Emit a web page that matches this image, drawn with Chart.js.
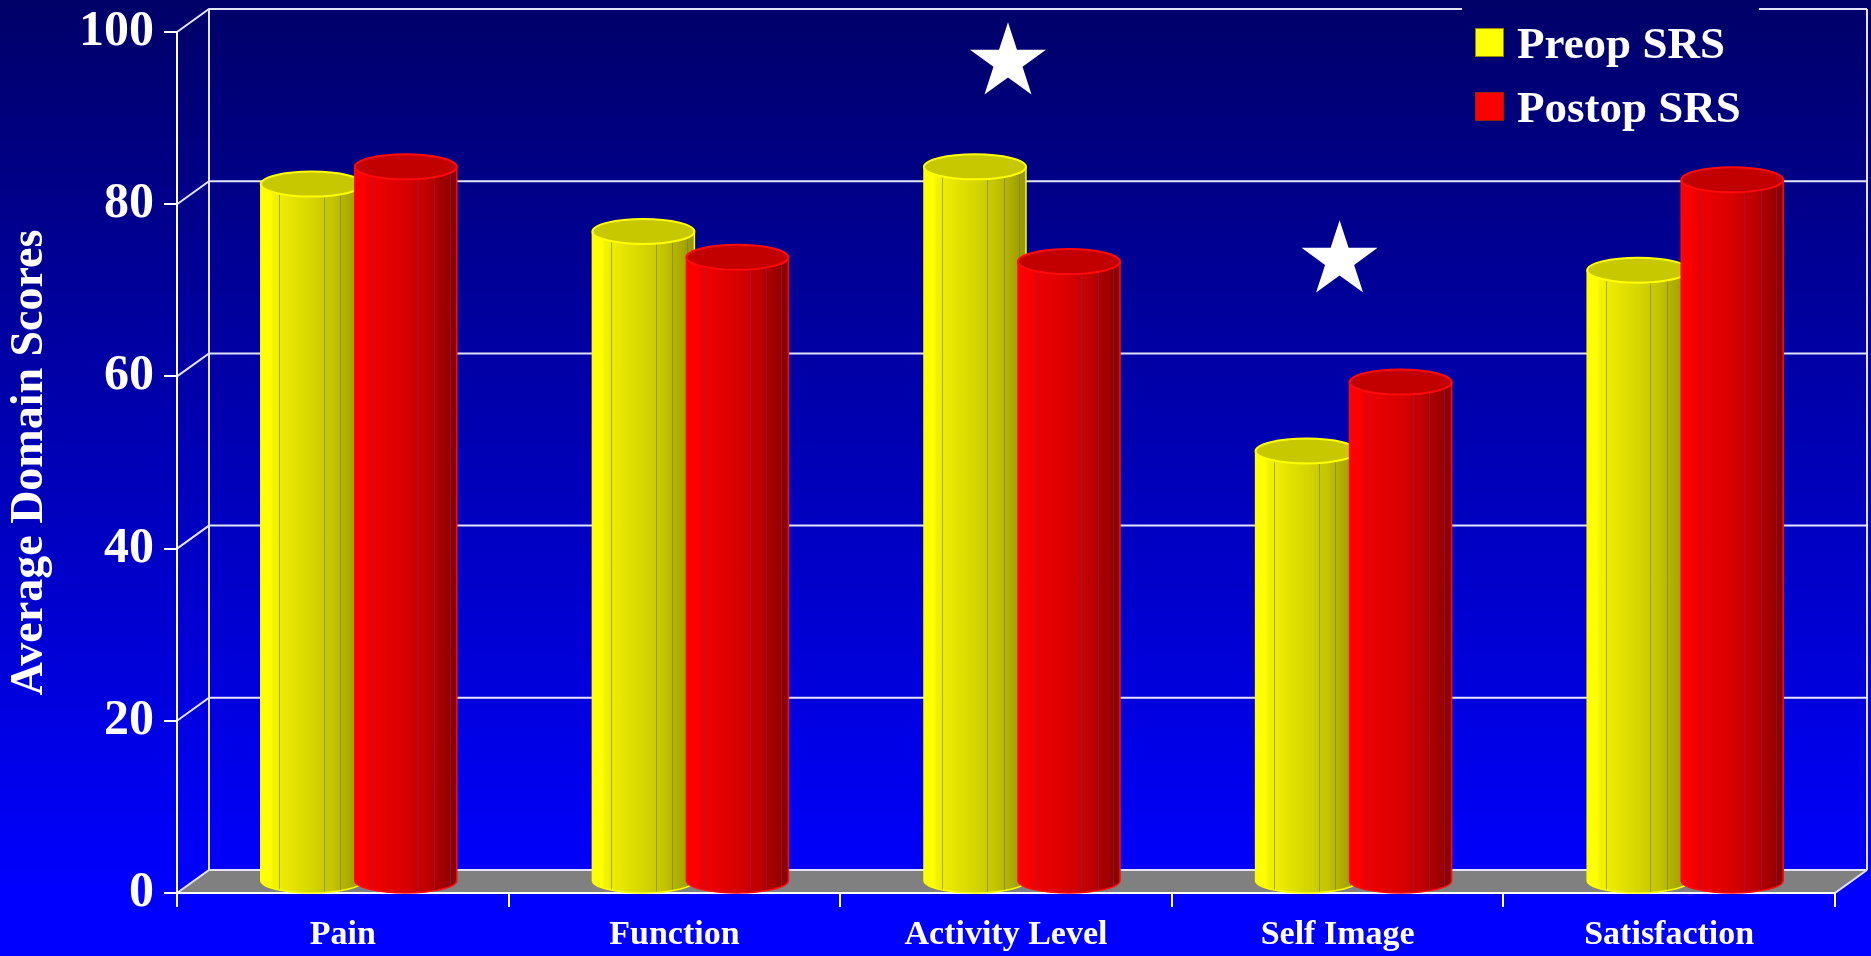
<!DOCTYPE html>
<html>
<head>
<meta charset="utf-8">
<title>Average Domain Scores</title>
<script src="https://cdn.jsdelivr.net/npm/chart.js@4.4.1/dist/chart.umd.min.js"></script>
<style>
  html, body { margin: 0; padding: 0; background: #0000ff; overflow: hidden; }
  canvas { display: block; }
</style>
</head>
<body>
<canvas id="srsChart" width="1871" height="956"></canvas>
<script>
// SRS domain scores, before and after surgery
const domains = ['Pain', 'Function', 'Activity Level', 'Self Image', 'Satisfaction'];
const preopScores = [81, 75.5, 83, 50, 71];
const postopScores = [83, 72.5, 72, 58, 81.5];
const scoreTicks = [0, 20, 40, 60, 80, 100];

// significance stars: which domain, and how high on the score axis
const starDomains = ['Activity Level', 'Self Image'];
const starHeights = [96.5, 73.5];

// depth of the fake 3d box
const DX = 32, DY = 23;
const serif = '"Liberation Serif", "Times New Roman", serif';
const gridColor = '#e4e4ff';

const yellowPal = {
    edge: '#ffff00', light: '#f2f200', mid: '#d6d600', late: '#c2c200', dark: '#959500',
    top: '#c8c800', rim: '#ffff00', facet: 'rgba(110,110,150,0.55)'
};
const redPal = {
    edge: '#ff0000', light: '#f20000', mid: '#d80000', late: '#bd0000', dark: '#860000',
    top: '#c20000', rim: '#ff0a0a', facet: 'rgba(120,40,120,0.45)'
};

function bgGradient(ctx) {
    const g = ctx.createLinearGradient(0, 0, 0, 893);
    g.addColorStop(0, '#000068');
    g.addColorStop(1, '#0000ff');
    return g;
}

function line(ctx, pts) {
    ctx.beginPath();
    ctx.moveTo(pts[0][0], pts[0][1]);
    for (let i = 1; i < pts.length; i++) ctx.lineTo(pts[i][0], pts[i][1]);
    ctx.stroke();
}

function drawCylinder(ctx, cx, topY, baseY, rx, ry, pal) {
    const left = cx - rx, right = cx + rx;
    const body = ctx.createLinearGradient(left, 0, right, 0);
    body.addColorStop(0, pal.edge);
    body.addColorStop(0.09, pal.edge);
    body.addColorStop(0.13, pal.light);
    body.addColorStop(0.5, pal.mid);
    body.addColorStop(0.72, pal.late);
    body.addColorStop(1, pal.dark);

    ctx.beginPath();
    ctx.moveTo(left, topY);
    ctx.lineTo(left, baseY);
    ctx.ellipse(cx, baseY, rx, ry, 0, Math.PI, 0, true);
    ctx.lineTo(right, topY);
    ctx.closePath();
    ctx.fillStyle = body;
    ctx.fill();

    // facet edges
    ctx.save();
    ctx.clip();
    ctx.strokeStyle = pal.facet;
    ctx.lineWidth = 1;
    [0.18, 0.62, 0.78, 0.93].forEach(f => {
        const fx = Math.round(left + f * 2 * rx) + 0.5;
        line(ctx, [[fx, topY], [fx, baseY + ry]]);
    });
    ctx.restore();

    // outline of the body
    ctx.strokeStyle = pal.rim;
    ctx.lineWidth = 1.5;
    ctx.beginPath();
    ctx.moveTo(left, topY);
    ctx.lineTo(left, baseY);
    ctx.ellipse(cx, baseY, rx, ry, 0, Math.PI, 0, true);
    ctx.lineTo(right, topY);
    ctx.stroke();

    // lid
    ctx.beginPath();
    ctx.ellipse(cx, topY, rx, ry, 0, 0, Math.PI * 2);
    ctx.fillStyle = pal.top;
    ctx.fill();
    ctx.lineWidth = 2;
    ctx.strokeStyle = pal.rim;
    ctx.stroke();
}

function drawStar(ctx, cx, cy, R) {
    const r = R * 0.382;
    ctx.beginPath();
    for (let i = 0; i < 10; i++) {
        const rad = i % 2 === 0 ? R : r;
        const a = -Math.PI / 2 + i * Math.PI / 5;
        const px = cx + rad * Math.cos(a), py = cy + rad * Math.sin(a);
        if (i === 0) ctx.moveTo(px, py); else ctx.lineTo(px, py);
    }
    ctx.closePath();
    ctx.fillStyle = '#ffffff';
    ctx.fill();
}

// background, floor, back wall grid and legend
const roomPlugin = {
    id: 'room',
    beforeDraw(chart) {
        const ctx = chart.ctx;
        const a = chart.chartArea;
        const ys = chart.scales.y;
        ctx.save();
        ctx.fillStyle = '#0000ff';
        ctx.fillRect(0, 0, chart.width, chart.height);
        ctx.fillStyle = bgGradient(ctx);
        ctx.fillRect(0, 0, chart.width, 893);

        // floor
        ctx.fillStyle = '#808080';
        ctx.beginPath();
        ctx.moveTo(a.left, a.bottom);
        ctx.lineTo(a.right, a.bottom);
        ctx.lineTo(a.right + DX, a.bottom - DY);
        ctx.lineTo(a.left + DX, a.bottom - DY);
        ctx.closePath();
        ctx.fill();

        ctx.strokeStyle = gridColor;
        ctx.lineWidth = 2;
        scoreTicks.forEach(v => {
            const py = ys.getPixelForValue(v);
            line(ctx, [[a.left, py], [a.left + DX, py - DY], [a.right + DX, py - DY]]);
        });
        line(ctx, [[a.left + DX, a.top - DY], [a.left + DX, a.bottom - DY]]);
        line(ctx, [[a.right + DX, a.top - DY], [a.right + DX, a.bottom - DY]]);
        line(ctx, [[a.right, a.bottom], [a.right + DX, a.bottom - DY]]);

        // legend
        ctx.fillStyle = bgGradient(ctx);
        ctx.fillRect(1462, 0, 297, 140);
        ctx.font = 'bold 45px ' + serif;
        ctx.textBaseline = 'alphabetic';
        ctx.textAlign = 'left';
        chart.data.datasets.forEach((ds, i) => {
            const top = 28 + i * 64;
            ctx.fillStyle = ds.pal.edge;
            ctx.fillRect(1475, top, 29, 29);
            ctx.strokeStyle = 'rgba(80,60,0,0.6)';
            ctx.lineWidth = 1;
            ctx.strokeRect(1475.5, top + 0.5, 28, 28);
            ctx.fillStyle = '#ffffff';
            ctx.fillText(ds.label, 1517, top + 30);
        });
        ctx.restore();
    },
    afterDatasetsDraw(chart) {
        const ctx = chart.ctx;
        ctx.save();
        chart.data.datasets.forEach((ds, i) => {
            chart.getDatasetMeta(i).data.forEach(bar => {
                const rx = 51, ry = 12.5;
                drawCylinder(ctx, bar.x + DX / 2, bar.y - DY / 2, bar.base - DY / 2, rx, ry, ds.pal);
            });
        });
        const xs = chart.scales.x, ys = chart.scales.y;
        starDomains.forEach((d, i) => {
            drawStar(ctx, xs.getPixelForValue(domains.indexOf(d)) + 2, ys.getPixelForValue(starHeights[i]), 40);
        });
        ctx.restore();
    }
};

const ctx = document.getElementById('srsChart').getContext('2d');
const srsChart = new Chart(ctx, {
    type: 'bar',
    data: {
        labels: domains,
        datasets: [{
            label: 'Preop SRS',
            data: preopScores,
            pal: yellowPal,
            backgroundColor: 'rgba(0,0,0,0)',
            borderWidth: 0
        }, {
            label: 'Postop SRS',
            data: postopScores,
            pal: redPal,
            backgroundColor: 'rgba(0,0,0,0)',
            borderWidth: 0
        }]
    },
    options: {
        responsive: false,
        animation: false,
        devicePixelRatio: 1,
        events: [],
        categoryPercentage: 0.567,
        barPercentage: 1.0,
        layout: {
            padding: { left: 0, top: 32, right: 36, bottom: 0 }
        },
        plugins: {
            legend: { display: false },
            tooltip: { enabled: false }
        },
        scales: {
            x: {
                afterFit: s => { s.height = 63; },
                grid: {
                    offset: true,
                    drawOnChartArea: false,
                    color: '#ffffff',
                    lineWidth: 2,
                    tickLength: 14
                },
                border: { color: '#ffffff', width: 2 },
                ticks: {
                    color: '#ffffff',
                    padding: 8,
                    font: { family: serif, size: 34, weight: 'bold' }
                }
            },
            y: {
                min: 0,
                max: 100,
                afterFit: s => { s.width = 177; s.paddingTop = 0; s.paddingBottom = 0; },
                afterBuildTicks: s => { s.ticks = scoreTicks.map(v => ({ value: v })); },
                grid: {
                    drawOnChartArea: false,
                    color: '#ffffff',
                    lineWidth: 2,
                    tickLength: 13
                },
                border: { color: '#ffffff', width: 2 },
                ticks: {
                    color: '#ffffff',
                    padding: 10,
                    font: { family: serif, size: 50, weight: 'bold', lineHeight: 0.8 }
                },
                title: {
                    display: true,
                    text: 'Average Domain Scores',
                    color: '#ffffff',
                    padding: { top: 3, bottom: 0 },
                    font: { family: serif, size: 46, weight: 'bold' }
                }
            }
        }
    },
    plugins: [roomPlugin]
});
</script>
</body>
</html>
